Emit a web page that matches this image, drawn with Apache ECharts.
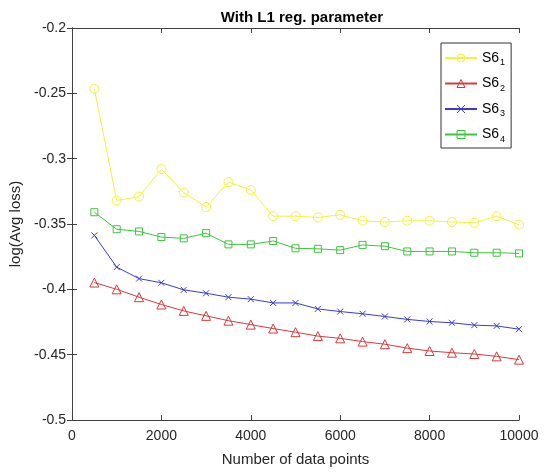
<!DOCTYPE html>
<html><head><meta charset="utf-8">
<script src="https://cdn.jsdelivr.net/npm/echarts@6/dist/echarts.min.js"></script>
<style>html,body{margin:0;padding:0;background:#fff}#c{width:544px;height:472px}</style>
</head><body><div id="c"></div>
<script>
var xValues = [500,1000,1500,2000,2500,3000,3500,4000,4500,5000,5500,6000,6500,7000,7500,8000,8500,9000,9500,10000];
var s61 = [-0.2466,-0.332,-0.329,-0.308,-0.326,-0.337,-0.318,-0.324,-0.344,-0.344,-0.345,-0.343,-0.3475,-0.3485,-0.3475,-0.3475,-0.3485,-0.349,-0.344,-0.3505];
var s62 = [-0.3948,-0.400,-0.406,-0.4116,-0.4165,-0.4203,-0.424,-0.427,-0.430,-0.4328,-0.4358,-0.4375,-0.440,-0.442,-0.445,-0.4472,-0.4485,-0.4495,-0.4513,-0.4538];
var s63 = [-0.3587,-0.383,-0.3918,-0.395,-0.4004,-0.403,-0.406,-0.4075,-0.4104,-0.4104,-0.415,-0.417,-0.4187,-0.4208,-0.423,-0.4246,-0.4256,-0.4274,-0.428,-0.4305];
var s64 = [-0.341,-0.354,-0.3557,-0.360,-0.361,-0.357,-0.3656,-0.3656,-0.363,-0.3686,-0.369,-0.370,-0.366,-0.367,-0.371,-0.371,-0.371,-0.372,-0.372,-0.3725];
var seriesNames = ['S6_1','S6_2','S6_3','S6_4'];
var yTickLabels = ['-0.5','-0.45','-0.4','-0.35','-0.3','-0.25','-0.2'];
var xTickLabels = ['0','2000','4000','6000','8000','10000'];

var chart = echarts.init(document.getElementById('c'));
function pairs(v){ return v.map(function(y,i){ return [xValues[i], y]; }); }
var colors = ['#f2f23a','#d83a3a','#3a3ad0','#3ec43e'];
var symbols = ['circle','triangle','path://M0,0L10,10M10,0L0,10','rect'];
var sizes = [9,9,6,7];
var data = [s61,s62,s63,s64];
var font = 'Liberation Sans, Arial, sans-serif';
var axisCol = '#404040';
var series = data.map(function(d,i){
  return {
    name: seriesNames[i], type: 'line', data: pairs(d),
    symbol: symbols[i], symbolSize: sizes[i],
    lineStyle: {color: colors[i], width: 1},
    itemStyle: {color: 'rgba(255,255,255,0)', borderColor: colors[i], borderWidth: 1},
    emphasis: {disabled: true}, animation: false
  };
});
chart.setOption({
  animation: false,
  title: {text: 'With L1 reg. parameter', left: 297, top: 5, textAlign: 'center',
    textStyle: {fontFamily: font, fontSize: 15, fontWeight: 'bold', color: '#000'}},
  grid: {left: 72, right: 25, top: 28, bottom: 51},
  legend: {
    orient: 'vertical', left: 441, top: 43, width: 75,
    backgroundColor: '#fff', borderColor: '#333', borderWidth: 1, borderRadius: 0,
    padding: [8, 6, 4, 3], itemGap: 9, itemWidth: 32, itemHeight: 10,
    itemStyle: {borderWidth: 1},
    formatter: function(n){ var p = n.split('_'); return p[0] + '{sub|' + p[1] + '}'; },
    textStyle: {fontFamily: font, fontSize: 14, color: '#000',
      rich: {sub: {fontSize: 9, fontFamily: font, color: '#000', padding: [10, 0, 0, 1]}}},
    data: seriesNames
  },
  xAxis: [{
    type: 'value', min: 0, max: 10000, interval: 2000,
    name: 'Number of data points', nameLocation: 'middle', nameGap: 32,
    nameTextStyle: {fontFamily: font, fontSize: 15, color: '#262626'},
    axisLine: {show: true, lineStyle: {color: axisCol}},
    axisTick: {show: true, inside: true, length: 5, lineStyle: {color: axisCol}},
    axisLabel: {fontFamily: font, fontSize: 14, color: '#262626', margin: 9,
      formatter: function(v){ return xTickLabels[Math.round(v / 2000)]; }},
    splitLine: {show: false}
  },{
    type: 'value', min: 0, max: 10000, interval: 2000, position: 'top',
    axisLine: {show: true, lineStyle: {color: axisCol}},
    axisTick: {show: true, inside: true, length: 5, lineStyle: {color: axisCol}},
    axisLabel: {show: false}, splitLine: {show: false}
  }],
  yAxis: [{
    type: 'value', min: -0.5, max: -0.2, interval: 0.05,
    name: 'log(Avg loss)', nameLocation: 'middle', nameGap: 42,
    nameTextStyle: {fontFamily: font, fontSize: 15, color: '#262626'},
    axisLine: {show: true, lineStyle: {color: axisCol}},
    axisTick: {show: true, inside: true, length: 5, lineStyle: {color: axisCol}},
    axisLabel: {fontFamily: font, fontSize: 14, color: '#262626', margin: 6,
      formatter: function(v){ var k = Math.round((v + 0.5) / 0.05); return yTickLabels[k]; }},
    splitLine: {show: false}
  },{
    type: 'value', min: -0.5, max: -0.2, interval: 0.05, position: 'right',
    axisLine: {show: true, lineStyle: {color: axisCol}},
    axisTick: {show: true, inside: true, length: 5, lineStyle: {color: axisCol}},
    axisLabel: {show: false}, splitLine: {show: false}
  }],
  series: series
});
</script></body></html>
